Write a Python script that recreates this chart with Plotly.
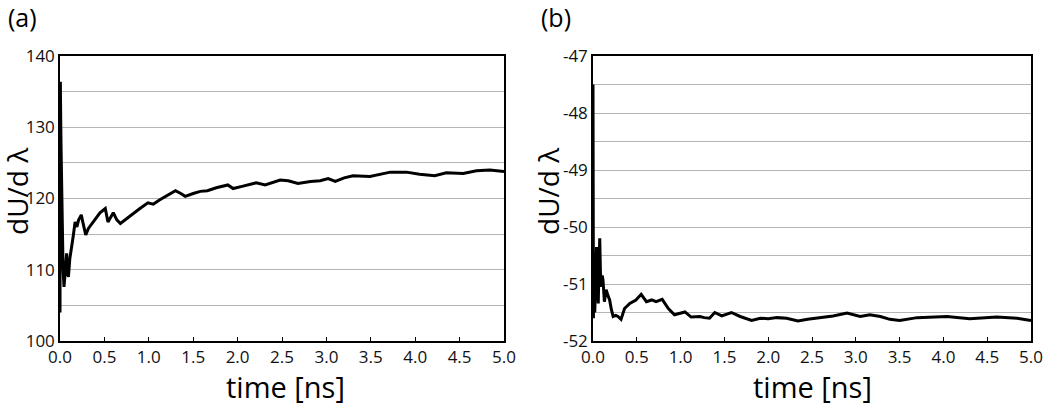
import plotly.graph_objects as go

# Panel (a)
time_a = [0.0, 0.004, 0.008, 0.012, 0.018, 0.025, 0.035, 0.045, 0.06, 0.075, 0.085, 0.095,
          0.11, 0.13, 0.15, 0.17, 0.19, 0.21, 0.24, 0.26, 0.29, 0.32, 0.36, 0.4, 0.45, 0.51,
          0.54, 0.6, 0.64, 0.68, 0.75, 0.84, 0.9, 0.99, 1.05, 1.12, 1.18, 1.24, 1.3, 1.36,
          1.41, 1.5, 1.58, 1.66, 1.76, 1.89, 1.95, 2.05, 2.21, 2.31, 2.4, 2.48, 2.57, 2.68,
          2.82, 2.93, 3.02, 3.1, 3.2, 3.3, 3.49, 3.6, 3.72, 3.9, 4.05, 4.22, 4.35, 4.54,
          4.69, 4.84, 5.0]
dudl_a = [104, 136.4, 131, 127, 121, 114, 110, 107.6, 110.5, 112.3, 109.5, 109,
          111.5, 113, 114.8, 116.7, 116.0, 117.0, 117.7, 116.5, 114.9, 115.8, 116.5, 117.3, 118.0, 118.6,
          116.7, 118.0, 117.0, 116.5, 117.2, 118.1, 118.6, 119.4, 119.2, 119.8, 120.2, 120.7, 121.1, 120.7,
          120.3, 120.7, 121.0, 121.1, 121.5, 121.9, 121.4, 121.7, 122.2, 121.9, 122.3, 122.6, 122.5, 122.1,
          122.4, 122.5, 122.8, 122.4, 122.9, 123.2, 123.1, 123.4, 123.7, 123.7, 123.4, 123.2, 123.6, 123.5,
          123.9, 124.0, 123.8]

# Panel (b)
time_b = [0.0, 0.005, 0.01, 0.02, 0.03, 0.04, 0.05, 0.06, 0.07, 0.077, 0.085, 0.095, 0.105,
          0.114, 0.13, 0.15, 0.17, 0.19, 0.21, 0.23, 0.26, 0.285, 0.32, 0.34, 0.36, 0.42, 0.49,
          0.55, 0.58, 0.61, 0.67, 0.72, 0.79, 0.86, 0.93, 0.99, 1.05, 1.12, 1.22, 1.27, 1.33,
          1.39, 1.47, 1.58, 1.68, 1.81, 1.91, 2.0, 2.1, 2.21, 2.34, 2.45, 2.55, 2.74, 2.9,
          3.05, 3.16, 3.28, 3.39, 3.5, 3.7, 4.04, 4.3, 4.61, 4.84, 5.0]
dudl_b = [-47.5, -51.6, -50.6, -51.5, -50.5, -50.35, -51.0, -51.34, -50.6, -50.2, -50.8, -51.05, -50.85,
          -50.93, -51.31, -51.1, -51.2, -51.28, -51.45, -51.57, -51.55, -51.57, -51.62, -51.5, -51.43, -51.34, -51.28,
          -51.18, -51.25, -51.31, -51.28, -51.31, -51.27, -51.43, -51.54, -51.52, -51.49, -51.58, -51.57, -51.59, -51.6,
          -51.5, -51.56, -51.5, -51.57, -51.64, -51.6, -51.61, -51.59, -51.6, -51.65, -51.62, -51.6, -51.56, -51.51,
          -51.57, -51.54, -51.57, -51.62, -51.64, -51.59, -51.57, -51.61, -51.58, -51.6, -51.64]

x_ticks = [0.0, 0.5, 1.0, 1.5, 2.0, 2.5, 3.0, 3.5, 4.0, 4.5, 5.0]
x_ticklabels = [f"{v:.1f}" for v in x_ticks]
y_ticks_a = [100, 110, 120, 130, 140]
y_ticklabels_a = ["100", "110", "120", "130", "140"]
y_ticks_b = [-52, -51, -50, -49, -48, -47]
y_ticklabels_b = ["-52", "-51", "-50", "-49", "-48", "-47"]

W, H = 1050, 405
FONT = "Open Sans"
TICKCOL = "#111"

fig = go.Figure()
fig.add_trace(go.Scatter(x=time_a, y=dudl_a, mode="lines", line=dict(color="black", width=3),
                         xaxis="x", yaxis="y", showlegend=False))
fig.add_trace(go.Scatter(x=time_b, y=dudl_b, mode="lines", line=dict(color="black", width=3),
                         xaxis="x2", yaxis="y2", showlegend=False))

ydom = [1 - 341 / H, 1 - 56 / H]
common_x = dict(range=[0, 5], tickvals=x_ticks, ticktext=x_ticklabels, ticks="inside", ticklen=4,
                tickcolor="black", showgrid=False, zeroline=False, showline=True, linecolor="black",
                linewidth=1.5, mirror=True, automargin=False,
                tickfont=dict(family=FONT, size=17, color=TICKCOL))
common_y = dict(ticks="", showgrid=True, gridcolor="#b5b5b5", gridwidth=1, zeroline=False,
                showline=True, linecolor="black", linewidth=1.5, mirror=True, automargin=False,
                tickfont=dict(family=FONT, size=17, color=TICKCOL),
                minor=dict(showgrid=True, gridcolor="#b5b5b5", gridwidth=1))

fig.update_layout(
    width=W, height=H, margin=dict(l=0, r=0, t=0, b=0, autoexpand=False),
    paper_bgcolor="white", plot_bgcolor="white",
    xaxis=dict(domain=[60 / W, 504 / W], anchor="y", **common_x),
    yaxis=dict(domain=ydom, anchor="x", range=[100, 140], tickvals=y_ticks_a, ticktext=y_ticklabels_a,
               minor_tickvals=[105, 115, 125, 135], **common_y),
    xaxis2=dict(domain=[593 / W, 1031 / W], anchor="y2", **common_x),
    yaxis2=dict(domain=ydom, anchor="x2", range=[-52, -47], tickvals=y_ticks_b, ticktext=y_ticklabels_b,
                minor_tickvals=[-51.5, -50.5, -49.5, -48.5, -47.5], **common_y),
)

ann = []
for xc in (285, 812):
    ann.append(dict(text="time [ns]", x=xc / W, y=1 - 386 / H, xref="paper", yref="paper",
                    showarrow=False, font=dict(family=FONT, size=29, color="black"),
                    xanchor="center", yanchor="middle"))
for xc in (17, 548):
    ann.append(dict(text="dU/d λ", x=xc / W, y=1 - 191 / H, xref="paper", yref="paper", textangle=-90,
                    showarrow=False, font=dict(family=FONT, size=28, color="black"),
                    xanchor="center", yanchor="middle"))
for xc, lab in ((22, "(a)"), (556, "(b)")):
    ann.append(dict(text=lab, x=xc / W, y=1 - 17 / H, xref="paper", yref="paper",
                    showarrow=False, font=dict(family=FONT, size=25, color="black"),
                    xanchor="center", yanchor="middle"))
fig.update_layout(annotations=ann)

fig.write_html("out.html", config={"displayModeBar": False},
               post_script="document.body.style.margin='0';")
